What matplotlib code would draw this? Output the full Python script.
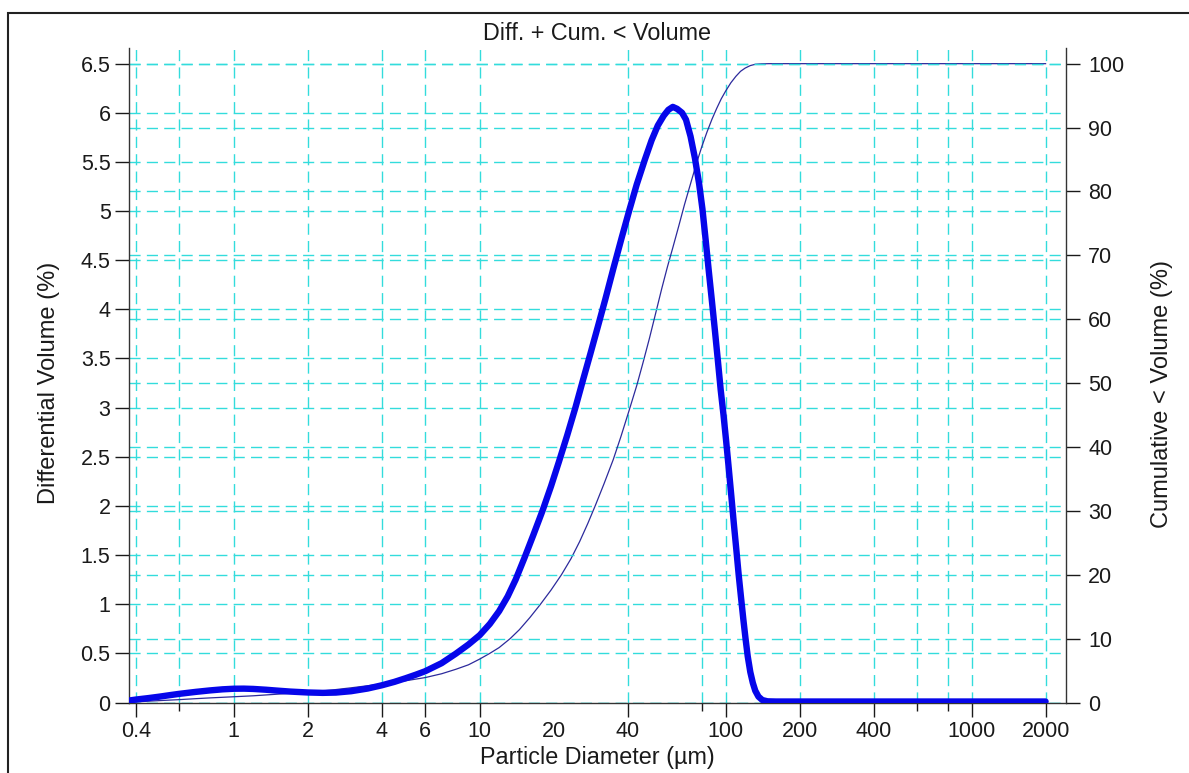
import numpy as np
import matplotlib
matplotlib.use("Agg")
import matplotlib.pyplot as plt
from matplotlib.patches import Rectangle
from matplotlib.ticker import FixedLocator, FixedFormatter, NullFormatter

plt.rcParams['font.family'] = ['Liberation Sans', 'DejaVu Sans']

# Differential volume distribution (% per size channel)
diff_diameter_um = [0.375, 0.40, 0.45, 0.50, 0.55, 0.60, 0.70, 0.80, 0.90, 1.00, 1.10,
                    1.20, 1.35, 1.50, 1.70, 2.00, 2.30, 2.60, 3.00, 3.50, 4.00, 4.50,
                    5.00, 5.50, 6.00, 7.00, 8.00, 9.00, 10.0, 11.0, 12.0, 13.0, 14.0,
                    15.2, 16.5, 18.0, 19.5, 21.0, 22.7, 24.5, 26.3, 28.2, 30.2, 32.4,
                    35.0, 37.8, 40.5, 43.5, 46.9, 50.0, 53.0, 56.0, 58.5, 61.0, 63.5,
                    66.5, 69.0, 72.0, 75.0, 78.0, 80.5, 83.0, 85.5, 88.0, 90.5, 93.0,
                    95.5, 98.0, 100.5, 103.0, 105.5, 108.0, 110.5, 113.0, 115.5, 118.0,
                    120.5, 123.0, 126.0, 129.0, 132.0, 136.0, 141.0, 148.0, 160.0, 2000.0]
diff_volume = [0.020, 0.030, 0.045, 0.060, 0.075, 0.088, 0.108, 0.123, 0.134, 0.140, 0.141,
               0.138, 0.130, 0.121, 0.111, 0.102, 0.098, 0.101, 0.115, 0.142, 0.175, 0.210,
               0.247, 0.283, 0.318, 0.400, 0.497, 0.590, 0.685, 0.800, 0.930, 1.080, 1.250,
               1.470, 1.700, 1.950, 2.200, 2.450, 2.720, 3.000, 3.280, 3.550, 3.820, 4.100,
               4.420, 4.730, 5.000, 5.270, 5.520, 5.720, 5.870, 5.970, 6.030, 6.060, 6.040,
               6.000, 5.930, 5.760, 5.540, 5.280, 5.020, 4.700, 4.380, 4.080, 3.780, 3.480,
               3.180, 2.930, 2.660, 2.380, 2.100, 1.820, 1.560, 1.300, 1.070, 0.850,
               0.650, 0.470, 0.310, 0.200, 0.120, 0.060, 0.025, 0.012, 0.010, 0.010]

# Cumulative undersize volume (%)
cum_diameter_um = [0.375, 0.40, 0.50, 0.60, 0.70, 0.80, 1.00, 1.20, 1.50, 2.00, 2.50, 3.00,
                   4.00, 5.00, 6.00, 7.00, 8.00, 9.00, 10.0, 11.0, 12.0, 13.3, 14.5, 16.0,
                   17.6, 19.5, 21.5, 23.5, 25.5, 27.5, 29.5, 32.0, 34.9, 37.5, 40.5, 43.5,
                   46.0, 49.0, 52.0, 55.0, 58.0, 61.1, 64.5, 68.0, 72.0, 76.0, 80.0, 84.0,
                   88.0, 92.0, 96.0, 100.0, 105.0, 110.0, 115.0, 120.0, 126.0, 132.0,
                   140.0, 150.0, 2000.0]
cum_volume = [0.0, 0.1, 0.3, 0.45, 0.6, 0.72, 0.9, 1.05, 1.3, 1.6, 1.95, 2.3,
              2.9, 3.4, 3.9, 4.5, 5.2, 5.9, 6.8, 7.7, 8.6, 10.0, 11.4, 13.3,
              15.3, 17.6, 20.0, 22.5, 25.2, 28.0, 30.8, 34.2, 38.0, 41.6, 45.7, 49.6,
              53.0, 57.0, 61.0, 64.8, 68.2, 71.3, 74.6, 77.9, 81.2, 84.3, 87.0, 89.3,
              91.3, 93.0, 94.5, 95.7, 97.0, 98.0, 98.8, 99.3, 99.7, 99.9,
              99.97, 100.0, 100.0]

x_tick_values = [0.4, 1, 2, 4, 6, 10, 20, 40, 100, 200, 400, 1000, 2000]
x_tick_labels = ['0.4', '1', '2', '4', '6', '10', '20', '40', '100', '200', '400', '1000', '2000']
x_minor_values = [0.6, 80, 600, 800]
x_grid_values = [0.4, 0.6, 1, 2, 4, 6, 10, 40, 80, 100, 200, 400, 600, 800, 1000, 2000]
left_ticks = [0, 0.5, 1, 1.5, 2, 2.5, 3, 3.5, 4, 4.5, 5, 5.5, 6, 6.5]
right_ticks = [0, 10, 20, 30, 40, 50, 60, 70, 80, 90, 100]

FS_TICK = 15.5
FS_LABEL = 16.8
TXT = '#1a1a1a'
GRID = '#33dcdc'
grid_kw = dict(color=GRID, lw=1.0, linestyle=(0, (8, 4.5)))

fig = plt.figure(figsize=(11.89, 7.73), dpi=100)
ax = fig.add_axes([0.1082, 0.0912, 0.7884, 0.8467])
ax2 = ax.twinx()
ax.set_zorder(ax2.get_zorder() + 1)
ax.patch.set_visible(False)

ax.set_xscale('log')
ax.set_xlim(0.3737, 2423)
ax.set_ylim(0, 6.659)
ax2.set_ylim(0, 102.45)

# grid: vertical lines and right-axis horizontals sit behind the curves
for g in x_grid_values:
    ax2.axvline(g, zorder=0.5, **grid_kw)
for r in right_ticks:
    ax2.axhline(r, zorder=0.5, **grid_kw)
for v in left_ticks:
    ax.axhline(v, zorder=0.5, **grid_kw)

ax2.plot(cum_diameter_um, cum_volume, color='#2c2a9c', lw=0.9, zorder=2)
ax.plot(diff_diameter_um, diff_volume, color='#0606ea', lw=4.6, zorder=3,
        solid_joinstyle='round', solid_capstyle='round')

# spines
for s in ['top', 'right']:
    ax.spines[s].set_visible(False)
for s in ['top', 'left', 'bottom']:
    ax2.spines[s].set_visible(False)
for a, s in [(ax, 'left'), (ax, 'bottom'), (ax2, 'right')]:
    a.spines[s].set_color('#333333')
    a.spines[s].set_linewidth(1.0)

# x ticks
ax.xaxis.set_major_locator(FixedLocator(x_tick_values))
ax.xaxis.set_major_formatter(FixedFormatter(x_tick_labels))
ax.xaxis.set_minor_locator(FixedLocator(x_minor_values))
ax.xaxis.set_minor_formatter(NullFormatter())
ax.tick_params(axis='x', which='major', direction='out', length=10, width=1,
               pad=3, labelsize=FS_TICK, colors=TXT)
ax.tick_params(axis='x', which='minor', direction='out', length=6, width=1, colors=TXT)
ax.xaxis.get_major_ticks(len(x_tick_values))[x_tick_values.index(20)].tick1line.set_visible(False)

# y ticks
ax.set_yticks(left_ticks)
ax.set_yticklabels(['%g' % v for v in left_ticks])
ax.tick_params(axis='y', direction='out', length=10, width=1, pad=3,
               labelsize=FS_TICK, colors=TXT)
ax2.set_yticks(right_ticks)
ax2.set_yticklabels([str(v) for v in right_ticks])
ax2.tick_params(axis='y', direction='out', length=10, width=1, pad=6,
                labelsize=FS_TICK, colors=TXT)

ax.set_title('Diff. + Cum. < Volume', fontsize=FS_LABEL, color=TXT, pad=6)
ax.set_xlabel('Particle Diameter (µm)', fontsize=FS_LABEL, color=TXT, labelpad=3)
ax.set_ylabel('Differential Volume (%)', fontsize=17, color=TXT, labelpad=15)
ax2.set_ylabel('Cumulative < Volume (%)', fontsize=17, color=TXT, labelpad=19)
ax.yaxis.label.set_y(0.488)
ax2.yaxis.label.set_y(0.472)

# outer frame
fig.add_artist(Rectangle((8.3 / 1189, -0.05), 1.2, 1 - 13.3 / 773 + 0.05,
                         transform=fig.transFigure, fill=False,
                         ec='#222222', lw=1.5))

fig.savefig('out.png', dpi=100)
